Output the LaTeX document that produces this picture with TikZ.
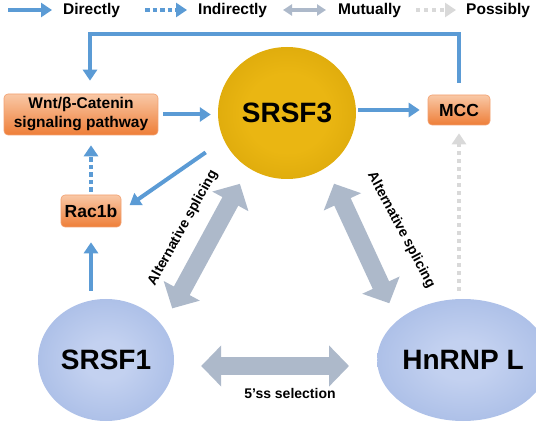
\documentclass[tikz,border=0pt]{standalone}
\usepackage{fontspec}
\setmainfont{Liberation Sans}
\usetikzlibrary{arrows.meta,shapes.geometric}
\definecolor{arrowblue}{HTML}{5B9BD5}
\definecolor{mutgrey}{HTML}{ADB9CA}
\definecolor{posgrey}{HTML}{D9D9D9}
\definecolor{boxtop}{HTML}{F9C8A6}
\definecolor{boxbot}{HTML}{EE7E38}
\definecolor{boxline}{HTML}{F2A070}
\definecolor{goldin}{HTML}{EAB612}
\definecolor{goldout}{HTML}{C89600}
\definecolor{bluein}{HTML}{C3D1F0}
\definecolor{blueout}{HTML}{8EA8DC}
\pgfdeclareradialshading{goldball}{\pgfpoint{0bp}{0bp}}{color(0bp)=(goldin); color(15bp)=(goldin); color(50bp)=(goldout); color(72bp)=(goldout)}
\pgfdeclareradialshading{blueball}{\pgfpoint{0bp}{0bp}}{color(0bp)=(bluein); color(8bp)=(bluein); color(50bp)=(blueout); color(72bp)=(blueout)}
\begin{document}
\begin{tikzpicture}[x=1pt,y=-1pt,font=\bfseries,
  direct/.style={arrowblue,line width=4pt,-{Triangle[length=11pt,width=14pt]}},
  indirect/.style={direct,dash pattern=on 4.5pt off 3pt},
  mutual/.style={mutgrey,line width=18pt,{Triangle[length=20pt,width=40pt]}-{Triangle[length=20pt,width=40pt]}},
  possible/.style={posgrey,line width=4pt,dash pattern=on 4pt off 4pt,-{Triangle[length=11pt,width=14pt]}},
  legend/.style={anchor=west,inner sep=0pt,font=\fontsize{15.5}{18}\selectfont\bfseries},
  gene/.style={draw=boxline,line width=0.6pt,rounded corners=4pt,top color=boxtop,bottom color=boxbot,inner sep=0pt,align=center,font=\fontsize{17.5}{20}\selectfont\bfseries},
  factor/.style={ellipse,inner sep=0pt,shading=blueball,minimum width=136pt,minimum height=122pt,font=\fontsize{28}{30}\selectfont\bfseries},
  link/.style={inner sep=0pt,font=\fontsize{14}{16}\selectfont\bfseries}]
        \useasboundingbox (0,0) rectangle (536,422);

        \node [legend] at (63,10) (Dir) {Directly};
        \node [legend] at (198,10) (Ind) {Indirectly};
        \node [legend] at (338,10) (Mut) {Mutually};
        \node [legend] at (466,10) (Pos) {Possibly};
        \draw [direct, shorten >=11pt] ([xshift=-55pt]Dir.west) -- (Dir.west);
        \draw [indirect, shorten >=11pt] ([xshift=-53pt]Ind.west) -- (Ind.west);
        \draw [mutgrey, line width=4pt, {Triangle[length=9pt,width=11pt]}-{Triangle[length=9pt,width=11pt]}, shorten >=12pt] ([xshift=-55pt]Mut.west) -- (Mut.west);
        \draw [possible, shorten >=10pt] ([xshift=-50pt]Pos.west) -- (Pos.west);

        \node [factor, shading=goldball, minimum width=138pt, minimum height=132pt] at (287,113) (SRSF3) {SRSF3};
        \node [factor] at (106,360) (SRSF1) {SRSF1};
        \node [factor] at (463,360) (HnRNP) {HnRNP L};
        \node [gene, minimum width=154pt, minimum height=41pt, font=\fontsize{15.5}{19}\selectfont\bfseries] at (81,114.5) (Wnt) {Wnt/β-Catenin\\signaling pathway};
        \node [gene, minimum width=60pt, minimum height=32pt] at (91,211) (Rac) {Rac1b};
        \node [gene, minimum width=62pt, minimum height=30pt] at (459,110) (MCC) {MCC};
        \coordinate (Loop) at (90,34);

        \draw [direct, shorten <=12pt, shorten >=13pt] (MCC.north) |- (Loop) -- (Loop |- Wnt.north);
        \draw [direct, shorten <=5pt, shorten >=7pt] (Wnt.east) -- (SRSF3.west |- Wnt.east);
        \draw [direct, shorten <=2pt, shorten >=8pt] (SRSF3.east |- MCC.west) -- (MCC.west);
        \draw [direct, shorten <=22pt, shorten >=10pt] (SRSF3.203) -- (Rac.east);
        \draw [indirect, shorten <=3pt, shorten >=10pt] (Rac.north) -- (Rac.north |- Wnt.south);
        \draw [direct, shorten <=8pt, shorten >=15pt] (Rac.south |- SRSF1.north) -- (Rac.south);
        \draw [possible, shorten <=8pt, shorten >=8pt] (MCC.south |- HnRNP.north) -- (MCC.south);

        \draw [mutual, shorten <=20pt, shorten >=18pt] (SRSF1.31.5) -- (SRSF3.235);
        \draw [mutual, shorten <=18pt, shorten >=19pt] (SRSF3.306.6) -- (HnRNP.149);
        \draw [mutual, shorten <=27pt, shorten >=28pt] ([yshift=-6pt]SRSF1.east) -- ([yshift=-6pt]HnRNP.west);

        \node [link, rotate=61] at (183,228) (AltL) {Alternative splicing};
        \node [link, rotate=-62] at (401,230) (AltR) {Alternative splicing};
        \node [link] at (290,393) (Sel) {5’ss selection};
\end{tikzpicture}
\end{document}
